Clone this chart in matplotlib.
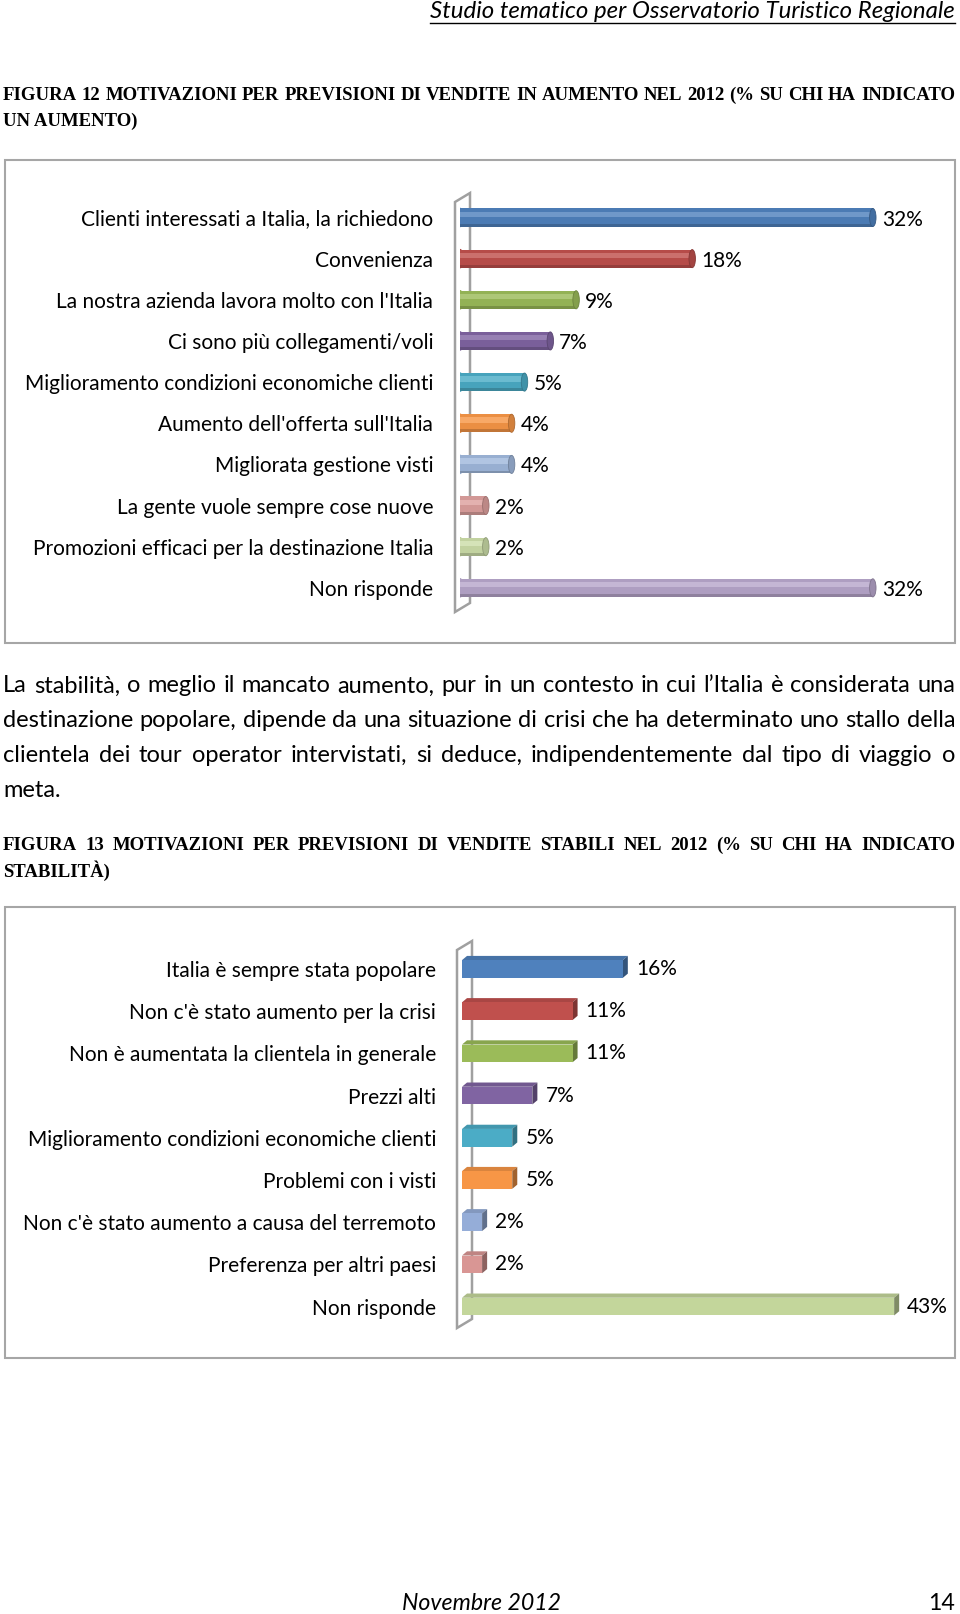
import matplotlib
matplotlib.use("Agg")
import matplotlib.pyplot as plt
from matplotlib.patches import Rectangle, Ellipse, Polygon
from matplotlib.colors import to_rgb

# dati figura 12
cat12 = [
    "Clienti interessati a Italia, la richiedono",
    "Convenienza",
    "La nostra azienda lavora molto con l'Italia",
    "Ci sono più collegamenti/voli",
    "Miglioramento condizioni economiche clienti",
    "Aumento dell'offerta sull'Italia",
    "Migliorata gestione visti",
    "La gente vuole sempre cose nuove",
    "Promozioni efficaci per la destinazione Italia",
    "Non risponde",
]
val12 = [32, 18, 9, 7, 5, 4, 4, 2, 2, 32]
col12 = ["#4F81BD", "#C0504D", "#9BBB59", "#8064A2", "#4BACC6",
         "#F79646", "#A0B8DC", "#DDA09E", "#CCDDA8", "#B7A6CB"]

# dati figura 13
cat13 = [
    "Italia è sempre stata popolare",
    "Non c'è stato aumento per la crisi",
    "Non è aumentata la clientela in generale",
    "Prezzi alti",
    "Miglioramento condizioni economiche clienti",
    "Problemi con i visti",
    "Non c'è stato aumento a causa del terremoto",
    "Preferenza per altri paesi",
    "Non risponde",
]
val13 = [16, 11, 11, 7, 5, 5, 2, 2, 43]
col13 = ["#4F81BD", "#C0504D", "#9BBB59", "#8064A2", "#4BACC6",
         "#F79646", "#95ADD8", "#D99694", "#C3D69B"]

header = "Studio tematico per Osservatorio Turistico Regionale"
title12 = ["FIGURA 12 MOTIVAZIONI PER PREVISIONI DI VENDITE IN AUMENTO NEL 2012 (% SU CHI HA INDICATO",
           "UN AUMENTO)"]
title13 = ["FIGURA 13 MOTIVAZIONI PER PREVISIONI DI VENDITE STABILI NEL 2012 (% SU CHI HA INDICATO",
           "STABILITÀ)"]
paragraph = [
    "La stabilità, o meglio il mancato aumento, pur in un contesto in cui l’Italia è considerata una",
    "destinazione popolare, dipende da una situazione di crisi che ha determinato uno stallo della",
    "clientela dei tour operator intervistati, si deduce, indipendentemente dal tipo di viaggio o",
    "meta.",
]
footer = "Novembre 2012"
page_no = "14"

W, H = 960, 1614
SANS = "Lato"
SERIF = "Liberation Serif"

fig = plt.figure(figsize=(W / 100, H / 100), dpi=100)
pg = fig.add_axes([0, 0, 1, 1])
pg.set_xlim(0, W)
pg.set_ylim(H, 0)
pg.axis("off")
rend = fig.canvas.get_renderer()


def mix(c, other, t):
    a, b = to_rgb(c), to_rgb(other)
    return tuple(x + (y - x) * t for x, y in zip(a, b))


def justify(words_line, y, x0, x1, **kw):
    words = words_line.split()
    arts = [pg.text(0, y, w, ha="left", va="center", **kw) for w in words]
    widths = [a.get_window_extent(rend).width for a in arts]
    gap = (x1 - x0 - sum(widths)) / max(len(words) - 1, 1)
    x = x0
    for a, w in zip(arts, widths):
        a.set_x(x)
        x += w + gap


def px_axes(x0, y0, x1, y1):
    ax = fig.add_axes([x0 / W, 1 - y1 / H, (x1 - x0) / W, (y1 - y0) / H])
    ax.set_facecolor("none")
    for s in ax.spines.values():
        s.set_visible(False)
    ax.set_xticks([])
    return ax


# intestazione
t = pg.text(955, 12, header, ha="right", va="center", fontstyle="italic",
            family=SANS, fontsize=17.3)
bb = t.get_window_extent(rend)
pg.plot([bb.x0, bb.x1], [23, 23], color="black", lw=1)

# titoli
tkw = dict(family=SERIF, fontweight="bold", fontsize=13.5)
justify(title12[0], 95, 3, 955, **tkw)
pg.text(3, 121, title12[1], ha="left", va="center", **tkw)
justify(title13[0], 845, 3, 955, **tkw)
pg.text(3, 871, title13[1], ha="left", va="center", **tkw)

# paragrafo
pkw = dict(family=SANS, fontsize=17)
for k, line in enumerate(paragraph):
    y = 686 + k * 34.7
    if k < len(paragraph) - 1:
        justify(line, y, 3, 955, **pkw)
    else:
        pg.text(3, y, line, ha="left", va="center", **pkw)

# piè di pagina
pg.text(481, 1603, footer, ha="center", va="center", fontstyle="italic",
        family=SANS, fontsize=16.7)
pg.text(955, 1603, page_no, ha="right", va="center", family=SANS, fontsize=16.7)

# cornici e pareti 3D
for (x0, y0, x1, y1) in [(5, 160, 955, 643), (5, 907, 955, 1358)]:
    pg.add_patch(Rectangle((x0, y0), x1 - x0, y1 - y0, fill=False,
                           edgecolor="#A6A6A6", lw=1.5))
for (xl, xr, yt, yb, d) in [(455, 470, 202, 612, 9), (457, 472, 950, 1328, 9)]:
    pg.add_patch(Polygon([(xl, yb), (xl, yt), (xr, yt - d), (xr, yb - d)],
                         closed=True, fill=False, edgecolor="#A0A0A0", lw=1.8))

lab_kw = dict(family=SANS, fontsize=15)

# figura 12: cilindri
ax1 = px_axes(460, 160, 955, 643)
ax1.set_xlim(0, 495 / 12.9)
ax1.set_ylim(10.34, -1.397)
h1 = 0.44
for i, (v, c) in enumerate(zip(val12, col12)):
    ax1.add_patch(Ellipse((0, i), 0.5, h1, color=mix(c, "black", 0.08), zorder=2))
    ax1.barh(i, v, height=h1, color=mix(c, "black", 0.05), zorder=3)
    ax1.barh(i - h1 * 0.18, v, height=h1 * 0.3, color=mix(c, "white", 0.18), zorder=4)
    ax1.barh(i + h1 * 0.42, v, height=h1 * 0.16, color=mix(c, "black", 0.22), zorder=4)
    ax1.add_patch(Ellipse((v, i), 0.5, h1, facecolor=mix(c, "black", 0.15),
                          edgecolor=mix(c, "black", 0.3), lw=0.6, zorder=6))
    ax1.annotate(f"{v}%", (v, i), xytext=(6.5, -1.5), textcoords="offset points",
                 ha="left", va="center", **lab_kw)
ax1.set_yticks(range(len(cat12)), cat12, **lab_kw)
ax1.tick_params(axis="y", length=0, pad=19.4)

# figura 13: parallelepipedi
ax2 = px_axes(462, 907, 955, 1358)
ax2.set_xlim(0, 493 / 10.05)
ax2.set_ylim(9.218, -1.469)
h2 = 0.42
dx, dy = 0.5, 0.1
for i, (v, c) in enumerate(zip(val13, col13)):
    top = i - h2 / 2
    bot = i + h2 / 2
    ax2.add_patch(Polygon([(0, top), (v, top), (v + dx, top - dy), (dx, top - dy)],
                          closed=True, facecolor=mix(c, "black", 0.12), lw=0, zorder=2))
    ax2.add_patch(Polygon([(v, top), (v + dx, top - dy), (v + dx, bot - dy), (v, bot)],
                          closed=True, facecolor=mix(c, "black", 0.35), lw=0, zorder=2))
    ax2.barh(i, v, height=h2, color=c, zorder=3)
    ax2.annotate(f"{v}%", (v, i), xytext=(9.4, 0), textcoords="offset points",
                 ha="left", va="center", **lab_kw)
ax2.set_yticks(range(len(cat13)), cat13, **lab_kw)
ax2.tick_params(axis="y", length=0, pad=18.7)

fig.savefig("out.png", dpi=100)
